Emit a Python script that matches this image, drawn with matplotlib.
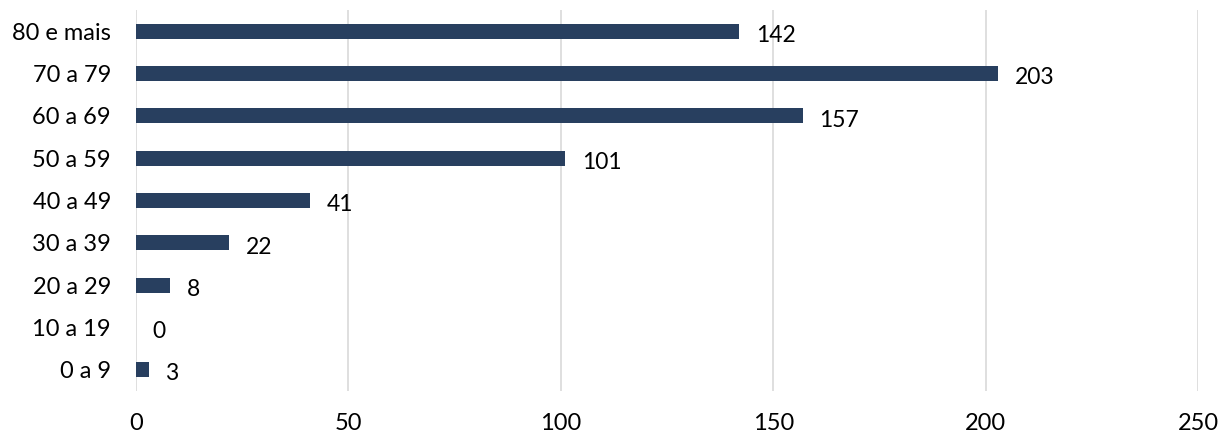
import matplotlib
matplotlib.use("Agg")
import matplotlib.pyplot as plt

categories = ["0 a 9", "10 a 19", "20 a 29", "30 a 39", "40 a 49",
              "50 a 59", "60 a 69", "70 a 79", "80 e mais"]
values = [3, 0, 8, 22, 41, 101, 157, 203, 142]
xticks = [0, 50, 100, 150, 200, 250]

plt.rcParams['font.family'] = ['Lato', 'DejaVu Sans']

fig = plt.figure(figsize=(12.22, 4.37), dpi=100)
W, H = 1222, 437
ax = fig.add_axes([136 / W, 1 - 391 / H, (1198 - 136) / W, (391 - 10) / H])

y = list(range(len(categories)))
ax.barh(y, values, height=0.36, color="#283f5f", zorder=3)
for yi, v in zip(y, values):
    ax.annotate(str(v), (v, yi), xytext=(12, -3), textcoords="offset points",
                ha="left", va="center", fontsize=16.5, color="black")

ax.set_xlim(0, 250)
ax.set_ylim(-0.5, 8.5)
ax.set_xticks(xticks)
ax.set_xticklabels([str(t) for t in xticks])
ax.set_yticks(y)
ax.set_yticklabels(categories)
ax.tick_params(axis="x", length=0, pad=16, labelsize=17)
ax.tick_params(axis="y", length=0, pad=18, labelsize=17)
ax.grid(axis="x", color="#d9d9d9", linewidth=1.2, zorder=0)
for s in ax.spines.values():
    s.set_visible(False)

fig.savefig("out.png", dpi=100)
